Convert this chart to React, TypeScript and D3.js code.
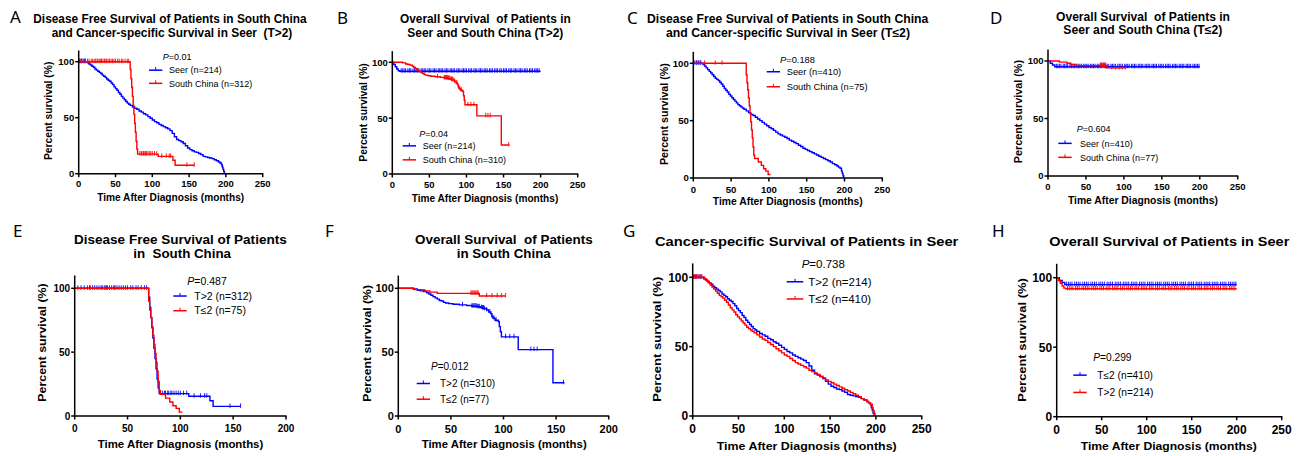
import React from 'react';
import * as d3 from 'd3';

type Pt = [number, number];

// ---------- DATA (time in months, percent survival) ----------
// SEER cancer-specific survival, T>2 (n=214)
const seerT2CSS: Pt[] = [[0,100],[9,100],[12,99],[14,98],[16,97],[18,96],[20,95],[22,93.5],[24,92.5],[26,91.5],[28,90.5],[30,89.5],[32,88],[34,87],[36,86],[38,84.5],[40,83.5],[42,82.5],[44,81],[46,79.5],[48,77.5],[50,76],[52,74.5],[54,72.5],[56,71],[58,69],[60,67.5],[62,66],[64,64.5],[66,63],[68,62],[70,61],[73,59.5],[76,58.5],[79,57.5],[82,56],[85,55],[88,53.5],[91,52.5],[94,51],[97,49.5],[100,48],[103,46.5],[106,45.5],[109,44],[112,43],[115,42],[118,41],[121,40],[124,38.5],[127,36],[130,33],[133,30.5],[136,29.5],[139,28.5],[142,27],[145,25],[148,23],[151,21.5],[154,20.5],[157,19.5],[160,19],[163,18],[166,17],[169,15.5],[172,15],[175,14.5],[178,14],[181,13.5],[184,12.5],[187,11.5],[190,10.5],[192,9.5],[194,8],[195,6],[196,4],[197,2],[198,0]];
const seerT2CSSCensor = [1,3,4,6,8,9];
// SEER cancer-specific survival, T<=2 (n=410)
const seerT1CSS: Pt[] = [[0,100],[11,100],[13,99],[15,97.5],[17,96],[19,94.5],[21,93],[23,91.5],[25,90],[27,88.5],[29,87],[31,86],[33,85],[35,83.5],[37,82],[39,80],[41,78],[43,76.5],[45,75],[47,73],[49,71.5],[51,70],[53,68.5],[55,67],[57,65.5],[59,64],[61,63],[63,62],[65,61],[67,60],[70,58.5],[73,57],[76,55.5],[79,54.5],[82,53],[85,51.5],[88,50],[91,48.5],[94,47],[97,45.5],[100,44],[103,43],[106,41.5],[109,40],[112,38.5],[115,37.5],[118,36.5],[121,35.5],[124,34.5],[127,33],[130,32],[133,31],[136,30],[139,28.5],[142,27.5],[145,26],[148,25],[151,24],[154,23],[157,22],[160,21],[163,20],[166,19],[169,18],[172,17],[175,16],[178,15],[181,14],[184,12.5],[187,11.5],[190,10.5],[192,9.5],[194,8.5],[196,6],[197,4],[198,2],[199,0]];
const seerT1CSSCensor = [2,4,5,7,9,10];
// South China disease free survival, T>2 (n=312)
const scT2DFS: Pt[] = [[0,100],[69,100],[70,93],[71,85],[72,77],[73,69],[74,61],[75,53],[76,45],[77,37],[78,29],[79,22],[80,17.5],[108,15.5],[128,12],[131,7.5],[157,7.5]];
const scT2DFSCensor = [3,6,9,12,14,17,19,21,23,25,26,28,30,31,33,35,37,38,40,42,44,46,48,50,53,55,58,60,63,66,68,83,85,86,88,89,91,92,94,96,98,100,103,106,113,119,123,125,147,157];
// South China disease free survival, T<=2 (n=75)
const scT1DFS: Pt[] = [[0,100],[69,100],[70,90],[71,83],[72,77],[73,70],[74,63],[75,56],[76,49],[77,42],[78,35],[79,27],[80,20],[81,17],[86,14],[90,11],[93,8],[96,6],[99,3],[102,3]];
const scT1DFSCensor = [15,29,38];
// SEER overall survival, T>2 (n=214)
const seerT2OS: Pt[] = [[0,100],[2,98],[4,96],[6,94],[8,92.5],[10,92],[200,92]];
const seerT2OSCensor = [12,14,16,18,21,23,25,28,30,32,34,36,39,41,43,45,48,50,52,55,57,59,62,64,66,68,71,73,75,78,80,82,84,87,89,91,94,96,98,100,103,105,107,110,112,114,117,119,121,124,126,128,131,133,135,138,140,142,145,147,150,152,154,157,159,161,164,166,168,171,173,175,178,180,182,185,187,189,192,194,196,198];
// SEER overall survival, T<=2 (n=410)
const seerT1OS: Pt[] = [[0,100],[3,98],[6,96.5],[9,95],[200,95]];
const seerT1OSCensor = [11,13,15,17,20,22,24,26,29,31,33,35,38,40,42,44,47,49,51,53,56,58,60,62,65,67,69,71,74,76,78,80,83,85,87,89,92,94,96,98,101,103,105,107,110,112,114,116,119,121,123,125,128,130,132,134,137,139,141,143,146,148,150,152,155,157,159,161,164,166,168,170,173,175,177,179,182,184,186,188,191,193,195,197,199];
// South China overall survival, T>2 (n=310)
const scT2OS: Pt[] = [[0,100],[10,100],[14,99.5],[18,98.5],[21,98],[24,97.5],[27,96.5],[29,95.5],[31,94.5],[33,93.5],[35,92.5],[37,91.5],[39,90.5],[41,90],[43,89],[45,88.5],[48,88],[52,87.5],[58,87],[65,86.5],[70,86],[75,85.5],[78,85],[80,84.5],[82,84],[84,83],[86,81.5],[88,80],[89,78],[90,76.5],[92,75],[95,74],[96,70],[97,66],[98,62],[114,52],[147,26],[158,26]];
const scT2OSCensor = [61,70,71,72,73,74,75,76,77,79,80,81,82,84,87,89,91,93,102,106,110,126,129,132,157];
// South China overall survival, T<=2 (n=77)
const scT1OS: Pt[] = [[0,100],[12,100],[15,99],[25,98],[30,97],[37,96],[77,94],[102,94]];
const scT1OSCensor = [69,70,71,72,73,74,75,76,84,89,94,98,102];

const xTicks250 = [0, 50, 100, 150, 200, 250];
const xTicks200 = [0, 50, 100, 150, 200];
const yTicks = [0, 50, 100];

const letters = ['A', 'B', 'C', 'D', 'E', 'F', 'G', 'H'];
const titles: string[][] = [
  ['Disease Free Survival of Patients in South China', 'and Cancer-specific Survival in Seer  (T>2)'],
  ['Overall Survival  of Patients in', 'Seer and South China (T>2)'],
  ['Disease Free Survival of Patients in South China', 'and Cancer-specific Survival in Seer (T\u22642)'],
  ['Overall Survival  of Patients in', 'Seer and South China (T\u22642)'],
  ['Disease Free Survival of Patients', 'in  South China'],
  ['Overall Survival  of Patients', 'in South China'],
  ['Cancer-specific Survival of Patients in Seer'],
  ['Overall Survival of Patients in Seer'],
];
const pValues = ['0.01', '0.04', '0.188', '0.604', '0.487', '0.012', '0.738', '0.299'];
const legendLabels: string[][] = [
  ['Seer (n=214)', 'South China (n=312)'],
  ['Seer (n=214)', 'South China (n=310)'],
  ['Seer (n=410)', 'South China (n=75)'],
  ['Seer (n=410)', 'South China (n=77)'],
  ['T>2 (n=312)', 'T\u22642 (n=75)'],
  ['T>2 (n=310)', 'T\u22642 (n=77)'],
  ['T>2 (n=214)', 'T\u22642 (n=410)'],
  ['T\u22642 (n=410)', 'T>2 (n=214)'],
];
const yLabel = 'Percent survival (%)';
const xLabel = 'Time After Diagnosis (months)';

// series pairs per panel: [blue, red]
const panelSeries: [Pt[], number[]][][] = [
  [[seerT2CSS, seerT2CSSCensor], [scT2DFS, scT2DFSCensor]],
  [[seerT2OS, seerT2OSCensor], [scT2OS, scT2OSCensor]],
  [[seerT1CSS, seerT1CSSCensor], [scT1DFS, scT1DFSCensor]],
  [[seerT1OS, seerT1OSCensor], [scT1OS, scT1OSCensor]],
  [[scT2DFS, scT2DFSCensor], [scT1DFS, scT1DFSCensor]],
  [[scT2OS, scT2OSCensor], [scT1OS, scT1OSCensor]],
  [[seerT2CSS, seerT2CSSCensor], [seerT1CSS, seerT1CSSCensor]],
  [[seerT1OS, seerT1OSCensor], [seerT2OS, seerT2OSCensor]],
];

// ---------- LAYOUT ----------
interface Layout {
  lx: number; ly: number;
  tl: [number, number, number][]; // x1, x2, baseline per title line
  ax: number; axEnd: number; y0: number; y100: number; xMax: number;
  tickFs: number; tickBase: number;
  ylx: number; yl1: number; yl2: number;
  xl1: number; xl2: number; xlb: number;
  px: number; pb: number;
  lg1: number; lg2: number; lgt: number; lgb: [number, number];
  lgFs: number;
}

const layouts: Layout[] = [
  { lx: 10, ly: 23, tl: [[33.3, 306.7, 22.7], [51.7, 292.3, 36.7]], ax: 78.7, axEnd: 262.7, y0: 173.7, y100: 61.7, xMax: 250,
    tickFs: 9.5, tickBase: 187, ylx: 48.3, yl1: 61.7, yl2: 160, xl1: 97.2, xl2: 244.2, xlb: 201,
    px: 162.7, pb: 60, lg1: 149, lg2: 162.3, lgt: 169, lgb: [73.3, 86.5], lgFs: 9 },
  { lx: 337, ly: 24, tl: [[400, 570.7, 22.7], [407.3, 563.3, 36.7]], ax: 392.3, axEnd: 577.7, y0: 174, y100: 62.3, xMax: 250,
    tickFs: 9.5, tickBase: 187.5, ylx: 363.3, yl1: 63.3, yl2: 161.7, xl1: 411.7, xl2: 558.3, xlb: 201.5,
    px: 419.3, pb: 136.5, lg1: 402.7, lg2: 416, lgt: 422.7, lgb: [149, 163], lgFs: 9 },
  { lx: 627, ly: 24, tl: [[647, 928.3, 23.3], [666, 910, 37.3]], ax: 693.3, axEnd: 882.3, y0: 178, y100: 63.3, xMax: 250,
    tickFs: 9.6, tickBase: 192.7, ylx: 664, yl1: 63.3, yl2: 165, xl1: 712.8, xl2: 862.8, xlb: 205,
    px: 780, pb: 62.5, lg1: 766.7, lg2: 780, lgt: 786.7, lgb: [75, 90], lgFs: 9.3 },
  { lx: 990, ly: 24, tl: [[1056, 1230, 20.7], [1063.3, 1222.3, 34.3]], ax: 1048, axEnd: 1237.7, y0: 176, y100: 61, xMax: 250,
    tickFs: 9.5, tickBase: 189.5, ylx: 1018.3, yl1: 60, yl2: 163.3, xl1: 1067.9, xl2: 1217.9, xlb: 204,
    px: 1076.7, pb: 131.5, lg1: 1058.3, lg2: 1071.7, lgt: 1080, lgb: [146.5, 160.5], lgFs: 9 },
  { lx: 13, ly: 237, tl: [[74, 286.7, 244], [133.3, 231, 258.3]], ax: 74.7, axEnd: 286, y0: 416, y100: 288.3, xMax: 200,
    tickFs: 10, tickBase: 431.7, ylx: 41.7, yl1: 283.3, yl2: 401.7, xl1: 97.7, xl2: 263.3, xlb: 448.3,
    px: 187.3, pb: 284.5, lg1: 173.3, lg2: 186.7, lgt: 194.3, lgb: [299.7, 314.4], lgFs: 10.5 },
  { lx: 325, ly: 237, tl: [[415, 592.7, 244], [456.7, 550.7, 258.3]], ax: 398.3, axEnd: 608.7, y0: 416, y100: 288.3, xMax: 200,
    tickFs: 11, tickBase: 433.3, ylx: 366.7, yl1: 285, yl2: 401.7, xl1: 421.7, xl2: 586.7, xlb: 448.3,
    px: 431, pb: 370.3, lg1: 416.7, lg2: 430, lgt: 440, lgb: [387, 402.7], lgFs: 10 },
  { lx: 623, ly: 237, tl: [[655, 958.3, 246]], ax: 692.7, axEnd: 921.7, y0: 416, y100: 277.3, xMax: 250,
    tickFs: 12, tickBase: 433.3, ylx: 657.3, yl1: 276.7, yl2: 401.7, xl1: 716.7, xl2: 896.7, xlb: 450,
    px: 801.7, pb: 267.5, lg1: 786.7, lg2: 803.3, lgt: 808.3, lgb: [285.8, 303], lgFs: 11.5 },
  { lx: 992, ly: 237, tl: [[1049.3, 1289.3, 246]], ax: 1056.7, axEnd: 1281.7, y0: 416.7, y100: 277.7, xMax: 250,
    tickFs: 12, tickBase: 434, ylx: 1021.7, yl1: 278.3, yl2: 401.7, xl1: 1080.7, xl2: 1256.7, xlb: 450,
    px: 1093.3, pb: 361, lg1: 1073.3, lg2: 1086.7, lgt: 1097.3, lgb: [378.7, 396], lgFs: 10.2 },
];

const FONT = "'Liberation Sans', Arial, Helvetica, sans-serif";
const COLORS = ['#0000ff', '#ff0000'];

function stepValue(data: Pt[], t: number): number {
  let v = data[0][1];
  for (const [tt, s] of data) {
    if (tt <= t) v = s; else break;
  }
  return v;
}

function Panel({ i }: { i: number }) {
  const L = layouts[i];
  const x = d3.scaleLinear().domain([0, L.xMax]).range([L.ax, L.axEnd]);
  const y = d3.scaleLinear().domain([0, 100]).range([L.y0, L.y100]);
  const line = d3.line<Pt>().x(d => x(d[0])).y(d => y(d[1])).curve(d3.curveStepAfter);
  const xt = L.xMax === 250 ? xTicks250 : xTicks200;
  const series = panelSeries[i];
  const titleFs = L.tl.length === 1 ? 13.5 : 12;
  const ylMid = (L.yl1 + L.yl2) / 2;
  return (
    <g>
      <text x={L.lx} y={L.ly} fontFamily="'Noto Sans', 'Open Sans', sans-serif" fontSize={17} fill="#000">{letters[i]}</text>
      {titles[i].map((t, k) => (
        <text key={k} x={L.tl[k][0]} y={L.tl[k][2]} textLength={L.tl[k][1] - L.tl[k][0]} lengthAdjust="spacingAndGlyphs"
          fontFamily={FONT} fontWeight="bold" fontSize={titleFs} style={{ whiteSpace: 'pre' }}>{t}</text>
      ))}
      {series.map(([data, censor], k) => (
        <g key={k}>
          <path d={line(data) || ''} fill="none" stroke={COLORS[k]} strokeWidth={1.4} />
          {censor.map((c, j) => {
            const cx = x(c), cy = y(stepValue(data, c));
            return <line key={j} x1={cx} x2={cx} y1={cy - 3} y2={cy + 1.5} stroke={COLORS[k]} strokeWidth={0.9} />;
          })}
        </g>
      ))}
      <line x1={L.ax} x2={L.ax} y1={y(0) + 0.75} y2={y(110)} stroke="#000" strokeWidth={1.5} />
      <line x1={L.ax - 0.75} x2={L.axEnd + 0.6} y1={y(0)} y2={y(0)} stroke="#000" strokeWidth={1.5} />
      {yTicks.map(v => (
        <g key={v}>
          <line x1={L.ax - 3.5} x2={L.ax} y1={y(v)} y2={y(v)} stroke="#000" strokeWidth={1.5} />
          <text x={L.ax - 4.5} y={y(v)} dy="0.36em" textAnchor="end" fontFamily={FONT} fontWeight="bold" fontSize={L.tickFs}>{v}</text>
        </g>
      ))}
      {xt.map(v => (
        <g key={v}>
          <line x1={x(v)} x2={x(v)} y1={y(0)} y2={y(0) + 3.5} stroke="#000" strokeWidth={1.5} />
          <text x={x(v)} y={L.tickBase} textAnchor="middle" fontFamily={FONT} fontWeight="bold" fontSize={L.tickFs}>{v}</text>
        </g>
      ))}
      <text transform={`translate(${L.ylx + 3.8},${ylMid}) rotate(-90)`} x={-(L.yl2 - L.yl1) / 2} y={0}
        textLength={L.yl2 - L.yl1} lengthAdjust="spacingAndGlyphs" fontFamily={FONT} fontWeight="bold" fontSize={11}>{yLabel}</text>
      <text x={L.xl1} y={L.xlb} textLength={L.xl2 - L.xl1} lengthAdjust="spacingAndGlyphs"
        fontFamily={FONT} fontWeight="bold" fontSize={11}>{xLabel}</text>
      <text x={L.px} y={L.pb} fontFamily={FONT} fontSize={L.lgFs}><tspan fontStyle="italic">P</tspan>={pValues[i]}</text>
      {legendLabels[i].map((lab, k) => (
        <g key={k}>
          <line x1={L.lg1} x2={L.lg2} y1={L.lgb[k] - L.lgFs * 0.35} y2={L.lgb[k] - L.lgFs * 0.35} stroke={COLORS[k]} strokeWidth={1.5} />
          <line x1={(L.lg1 + L.lg2) / 2} x2={(L.lg1 + L.lg2) / 2} y1={L.lgb[k] - L.lgFs * 0.35 - 3} y2={L.lgb[k] - L.lgFs * 0.35} stroke={COLORS[k]} strokeWidth={1} />
          <text x={L.lgt} y={L.lgb[k]} fontFamily={FONT} fontSize={L.lgFs}>{lab}</text>
        </g>
      ))}
    </g>
  );
}

export default function App() {
  return (
    <svg width={1305} height={456} viewBox="0 0 1305 456" style={{ position: 'absolute', left: 0, top: 0, background: '#fff' }}>
      <rect width={1305} height={456} fill="#fff" />
      {layouts.map((_, i) => <Panel key={i} i={i} />)}
    </svg>
  );
}
